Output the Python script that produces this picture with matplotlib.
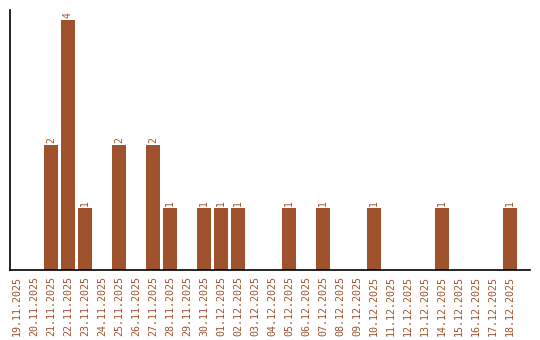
import matplotlib
matplotlib.use("Agg")
import matplotlib.pyplot as plt

dates = ["19.11.2025","20.11.2025","21.11.2025","22.11.2025","23.11.2025","24.11.2025",
         "25.11.2025","26.11.2025","27.11.2025","28.11.2025","29.11.2025","30.11.2025",
         "01.12.2025","02.12.2025","03.12.2025","04.12.2025","05.12.2025","06.12.2025",
         "07.12.2025","08.12.2025","09.12.2025","10.12.2025","11.12.2025","12.12.2025",
         "13.12.2025","14.12.2025","15.12.2025","16.12.2025","17.12.2025","18.12.2025"]
counts = [0,0,2,4,1,0,2,0,2,1,0,1,1,1,0,0,1,0,1,0,0,1,0,0,0,1,0,0,0,1]

color = "#A0522D"
fig = plt.figure(figsize=(5.4, 3.4), dpi=100)
ax = fig.add_axes([10/540, 70/340, 520/540, 260/340])
x = list(range(len(dates)))
ax.bar(x, counts, width=0.82, color=color)
for xi, c in zip(x, counts):
    if c > 0:
        ax.text(xi, c + 0.03, str(c), rotation=90, ha="center", va="bottom",
                color=color, family="DejaVu Sans Mono", fontsize=7)
ax.set_xlim(-0.41, 30.18)
ax.set_ylim(0, 4.16)
ax.set_xticks(x)
ax.set_xticklabels(dates, rotation=90, family="DejaVu Sans Mono", fontsize=7.2, color=color)
ax.tick_params(axis="x", length=0, pad=4)
ax.set_yticks([])
for s in ["top", "right"]:
    ax.spines[s].set_visible(False)
ax.spines["left"].set_color("black")
ax.spines["bottom"].set_color("black")
ax.spines["left"].set_linewidth(1.2)
ax.spines["bottom"].set_linewidth(1.2)
fig.savefig("out.png", dpi=100)
